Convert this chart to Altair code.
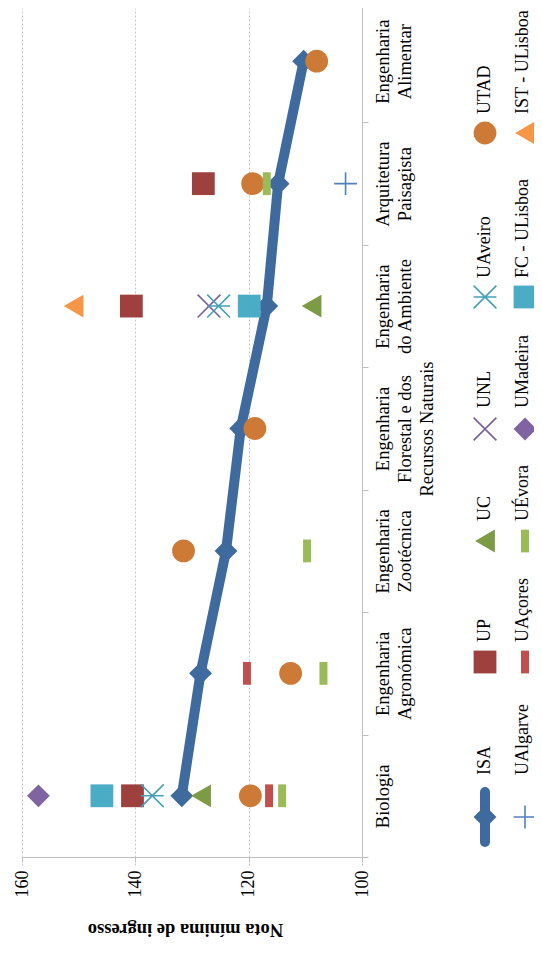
import altair as alt
import pandas as pd

# ---------------- data ----------------
CATEGORIES = [
    "Biologia",
    "Engenharia|Agronómica",
    "Engenharia|Zootécnica",
    "Engenharia|Florestal e dos|Recursos Naturais",
    "Engenharia|do Ambiente",
    "Arquitetura|Paisagista",
    "Engenharia|Alimentar",
]
SERIES = ["ISA", "UP", "UC", "UNL", "UAveiro", "UTAD",
          "UAlgarve", "UAçores", "UÉvora", "UMadeira", "FC - ULisboa", "IST - ULisboa"]

ISA = [131.8, 128.5, 124.0, 121.4, 116.8, 114.8, 110.3]
UP = [140.5, None, None, None, 140.7, 128.0, None]
UC = [128.4, None, None, None, 108.9, None, None]
UNL = [None, None, None, None, 127.0, None, None]
UAVEIRO = [137.0, None, None, None, 125.3, None, None]
UTAD = [119.7, 112.6, 131.5, 118.9, None, 119.3, 108.0]
UALGARVE = [None, None, None, None, None, 102.9, None]
UACORES = [116.4, 120.3, None, None, None, None, None]
UEVORA = [114.1, 106.8, 109.7, None, None, 116.8, None]
UMADEIRA = [157.1, None, None, None, None, None, None]
FC_ULISBOA = [145.9, None, None, None, 119.9, None, None]
IST_ULISBOA = [None, None, None, None, 150.9, None, None]

VALUES = [ISA, UP, UC, UNL, UAVEIRO, UTAD, UALGARVE, UACORES, UEVORA,
          UMADEIRA, FC_ULISBOA, IST_ULISBOA]

AXIS_VALUES = [100, 120, 140, 160]

# ---------------- styles ----------------
COLORS = ["#3E6A9E", "#9E413E", "#7D9A45", "#7B5F9C", "#46A1B7", "#CD7A36",
          "#4F81BD", "#C0504D", "#9BBB59", "#8064A2", "#4BACC6", "#F79646"]
X_PATH = "M-1,-1L1,1M-1,1L1,-1"
AST_PATH = "M-1,-1L1,1M-1,1L1,-1M-1,0L1,0"
PLUS_PATH = "M0,-1L0,1M-1,0L1,0"
BAR_PATH = "M-0.35,-1L0.35,-1L0.35,1L-0.35,1Z"
SHAPES = ["diamond", "square", "triangle-left", X_PATH, AST_PATH, "circle",
          PLUS_PATH, BAR_PATH, BAR_PATH, "diamond", "square", "triangle-left"]
STROKED = ["UNL", "UAveiro", "UAlgarve"]
FONT = "Liberation Serif"

# legend layout (pixels inside the plot group)
LEG_COL_X = [463, 503]
LEG_TXT_X = [463, 501]
LEG_SYM_Y = [809, 654, 533, 421, 289, 125]
LEG_TXT_Y = [767, 634, 513, 400, 270, 106]

# ---------------- tables ----------------
rows = []
for si, (s, vals) in enumerate(zip(SERIES, VALUES)):
    for ci, v in enumerate(vals):
        if v is not None:
            rows.append({"series": s, "cat": CATEGORIES[ci], "value": v,
                         "sidx": si, "cidx": ci})
df = pd.DataFrame(rows)

leg_rows = []
for si, s in enumerate(SERIES):
    col, row = divmod(si, 6)
    leg_rows.append({"series": s, "lx": LEG_COL_X[col], "tx": LEG_TXT_X[col],
                     "ly": LEG_SYM_Y[row], "ty": LEG_TXT_Y[row], "sidx": si})
leg = pd.DataFrame(leg_rows)

# ---------------- scales / axes ----------------
xs = alt.Scale(domain=[100, 160], reverse=True, nice=False, zero=False)
ys = alt.Scale(type="band", domain=CATEGORIES[::-1], range=[-8, 849],
               paddingInner=0, paddingOuter=0)
color_scale = alt.Scale(domain=SERIES, range=COLORS)
shape_scale = alt.Scale(domain=SERIES, range=SHAPES)

xaxis = alt.Axis(values=AXIS_VALUES, grid=True, gridDash=[2, 2], gridColor="#C6C6C6",
                 gridWidth=1, domainColor="#BFBFBF", tickColor="#BFBFBF", tickSize=5,
                 labelAngle=270, labelAlign="right", labelBaseline="middle",
                 labelPadding=8, labelFont=FONT, labelFontSize=18, labelColor="#000000",
                 title="Nota mínima de ingresso", titleFont=FONT, titleFontSize=18.5,
                 titleFontWeight="bold", titleAngle=180, titleBaseline="alphabetic",
                 titleAlign="center", titleX=163, titleY=66, titleColor="#000000")
yaxis = alt.Axis(orient="right", title=None, grid=False, domainColor="#BFBFBF",
                 tickColor="#BFBFBF", tickSize=6, tickBand="extent",
                 labelAngle=270, labelAlign="center", labelBaseline="top",
                 labelPadding=5, labelExpr="split(datum.label, '|')",
                 labelFont=FONT, labelFontSize=18.5, labelLineHeight=22,
                 labelColor="#000000", labelLimit=0, labelOverlap=False)

X = alt.X("value:Q", scale=xs, axis=xaxis)
Y = alt.Y("cat:N", scale=ys, axis=yaxis)

base = alt.Chart(df)
isa_line = base.transform_filter(alt.datum.series == "ISA").mark_line(
    color=COLORS[0], strokeWidth=10).encode(x=X, y=Y, order=alt.Order("cidx:Q"))

filled_pts = base.transform_filter(
    {"not": alt.FieldOneOfPredicate(field="series", oneOf=STROKED)}
).mark_point(filled=True, opacity=1, size=520, strokeWidth=0).encode(
    x=X, y=Y,
    color=alt.Color("series:N", scale=color_scale, legend=None),
    shape=alt.Shape("series:N", scale=shape_scale, legend=None),
    order=alt.Order("sidx:Q"),
)
stroked_pts = base.transform_filter(
    alt.FieldOneOfPredicate(field="series", oneOf=STROKED)
).mark_point(filled=False, opacity=1, size=520, strokeWidth=1.6).encode(
    x=X, y=Y,
    color=alt.Color("series:N", scale=color_scale, legend=None),
    shape=alt.Shape("series:N", scale=shape_scale, legend=None),
    order=alt.Order("sidx:Q"),
)
main = alt.layer(isa_line, filled_pts, stroked_pts)

# ---------------- manual (rotated) legend ----------------
ids = alt.Scale(domain=[0, 1000], range=[0, 1000], zero=False, nice=False)
LX = alt.X("lx:Q", scale=ids, axis=None)
lbase = alt.Chart(leg)
leg_rule = lbase.transform_filter(alt.datum.series == "ISA").transform_calculate(
    y1="datum.ly - 25", y2="datum.ly + 25"
).mark_rule(color=COLORS[0], strokeWidth=10, strokeCap="round").encode(
    x=LX, y=alt.Y("y1:Q", scale=ids, axis=None), y2="y2:Q")
leg_filled = lbase.transform_filter(
    {"not": alt.FieldOneOfPredicate(field="series", oneOf=STROKED)}
).mark_point(filled=True, opacity=1, size=520, strokeWidth=0).encode(
    x=LX, y=alt.Y("ly:Q", scale=ids, axis=None),
    color=alt.Color("series:N", scale=color_scale, legend=None),
    shape=alt.Shape("series:N", scale=shape_scale, legend=None),
)
leg_stroked = lbase.transform_filter(
    alt.FieldOneOfPredicate(field="series", oneOf=STROKED)
).mark_point(filled=False, opacity=1, size=520, strokeWidth=1.6).encode(
    x=LX, y=alt.Y("ly:Q", scale=ids, axis=None),
    color=alt.Color("series:N", scale=color_scale, legend=None),
    shape=alt.Shape("series:N", scale=shape_scale, legend=None),
)
leg_text = lbase.mark_text(angle=270, align="left", baseline="middle", font=FONT,
                           fontSize=18, color="#000000").encode(
    x=alt.X("tx:Q", scale=ids, axis=None), y=alt.Y("ty:Q", scale=ids, axis=None),
    text="series:N")
legend = alt.layer(leg_rule, leg_filled, leg_stroked, leg_text)

chart = alt.layer(main, legend).resolve_scale(
    x="independent", y="independent"
).properties(
    width=340, height=849,
    autosize=alt.AutoSizeParams(type="none"),
    padding={"left": 14, "top": 0, "right": 172, "bottom": 86},
    background="#FFFFFF",
).configure_view(stroke=None)

chart.save("out.html", embed_options={"renderer": "svg", "actions": False})
